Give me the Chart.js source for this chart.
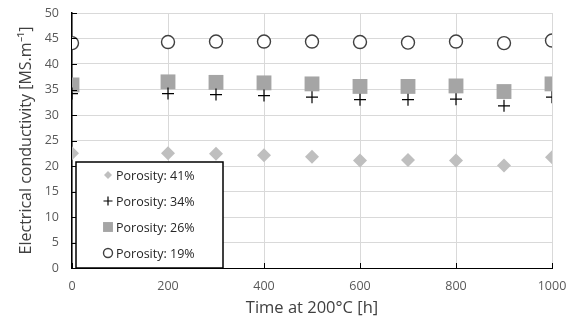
<!DOCTYPE html>
<html><head><meta charset="utf-8">
<script src="https://cdn.jsdelivr.net/npm/chart.js@4.4.1/dist/chart.umd.min.js"></script>
<style>html,body{margin:0;padding:0;background:#fff}#wrap{width:571px;height:323px;position:relative}</style>
</head><body><div id="wrap"><canvas id="c" width="571" height="323"></canvas></div>
<script>
const times = [0, 200, 300, 400, 500, 600, 700, 800, 900, 1000];
const porosity41 = [22.5, 22.5, 22.4, 22.1, 21.8, 21.1, 21.2, 21.1, 20.1, 21.7];
const porosity34 = [34.2, 34.2, 34.0, 33.8, 33.5, 33.0, 33.0, 33.1, 31.8, 33.5];
const porosity26 = [35.9, 36.5, 36.4, 36.3, 36.1, 35.6, 35.6, 35.7, 34.6, 36.1];
const porosity19 = [44.1, 44.3, 44.4, 44.4, 44.4, 44.3, 44.2, 44.4, 44.1, 44.6];
const seriesLabels = ['Porosity: 41%', 'Porosity: 34%', 'Porosity: 26%', 'Porosity: 19%'];

const FONT = "'Open Sans', sans-serif";
const pts = arr => arr.map((v, i) => ({x: times[i], y: v}));

const styles = [
  {pointStyle: 'rectRot', radius: 7, bg: '#bfbfbf', border: '#bfbfbf', bw: 0, lr: 4},
  {pointStyle: 'cross', radius: 6, bg: '#000', border: '#000', bw: 1.2, lr: 4.5},
  {pointStyle: 'rect', radius: 10.5, bg: '#a5a5a5', border: '#a5a5a5', bw: 0, lr: 7},
  {pointStyle: 'circle', radius: 6.5, bg: '#ffffff', border: '#404040', bw: 1.4, lr: 4.5}
];
const values = [porosity41, porosity34, porosity26, porosity19];

const datasets = values.map((v, i) => ({
  label: seriesLabels[i],
  data: pts(v),
  pointStyle: styles[i].pointStyle,
  pointRadius: styles[i].radius,
  pointHoverRadius: styles[i].radius,
  backgroundColor: styles[i].bg,
  borderColor: styles[i].border,
  pointBorderWidth: styles[i].bw,
  showLine: false
}));

const innerTicks = {
  id: 'innerTicks',
  afterDraw(chart) {
    const ctx = chart.ctx;
    const xs = chart.scales.x, ys = chart.scales.y;
    ctx.save();
    ctx.strokeStyle = '#000';
    ctx.lineWidth = 1;
    ys.ticks.forEach(t => {
      const y = Math.round(ys.getPixelForValue(t.value)) + 0.5;
      ctx.beginPath(); ctx.moveTo(xs.left, y); ctx.lineTo(xs.left + 5, y); ctx.stroke();
    });
    xs.ticks.forEach(t => {
      const x = Math.round(xs.getPixelForValue(t.value)) + 0.5;
      ctx.beginPath(); ctx.moveTo(x, ys.bottom); ctx.lineTo(x, ys.bottom - 5); ctx.stroke();
    });
    // legend box
    const ca = chart.chartArea;
    const bx = ca.left + 4, by = ca.top + 149, bw = 147, bh = ca.bottom - by;
    ctx.fillStyle = '#fff';
    ctx.fillRect(bx, by, bw, bh);
    ctx.strokeStyle = '#000';
    ctx.lineWidth = 1.5;
    ctx.strokeRect(bx, by, bw, bh);
    ctx.font = "12.5px " + FONT;
    ctx.textBaseline = 'middle';
    ctx.textAlign = 'left';
    chart.data.datasets.forEach((ds, i) => {
      const cy = by + 13 + i * 26;
      const mx = bx + 32;
      const st = styles[i];
      ctx.fillStyle = st.bg; ctx.strokeStyle = st.border; ctx.lineWidth = st.bw || 0.001;
      Chart.helpers.drawPoint(ctx, {pointStyle: st.pointStyle, radius: st.lr, borderWidth: st.bw}, mx, cy);
      ctx.fillStyle = '#262626';
      ctx.fillText(ds.label, bx + 40, cy + 1);
    });
    ctx.restore();
  }
};

new Chart(document.getElementById('c'), {
  type: 'scatter',
  data: {datasets},
  options: {
    responsive: false,
    animation: false,
    layout: {padding: {top: 13, right: 19, left: 0, bottom: 0}},
    plugins: {legend: {display: false}, tooltip: {enabled: false}},
    scales: {
      x: {
        type: 'linear', min: 0, max: 1000,
        ticks: {stepSize: 200, color: '#595959', font: {family: FONT, size: 12.5}, padding: 11,
                callback: v => String(v)},
        grid: {color: '#d9d9d9', drawTicks: false},
        border: {color: '#000', width: 1},
        title: {display: true, text: 'Time at 200°C [h]', color: '#404040', font: {family: FONT, size: 16.5}, padding: {top: 5, bottom: 5}},
        afterFit(s) { s.height = 55; s.paddingLeft = 0; s.paddingRight = 0; }
      },
      y: {
        min: 0, max: 50,
        ticks: {stepSize: 5, color: '#595959', font: {family: FONT, size: 12.5}, padding: 13},
        grid: {color: '#d9d9d9', drawTicks: false},
        border: {color: '#000', width: 1.5},
        title: {display: true, text: 'Electrical conductivity [MS.m⁻¹]', color: '#404040', font: {family: FONT, size: 16}, padding: {top: 17, bottom: 17}},
        afterFit(s) { s.width = 72; s.paddingTop = 0; s.paddingBottom = 0; }
      }
    }
  },
  plugins: [innerTicks]
});
</script></body></html>
